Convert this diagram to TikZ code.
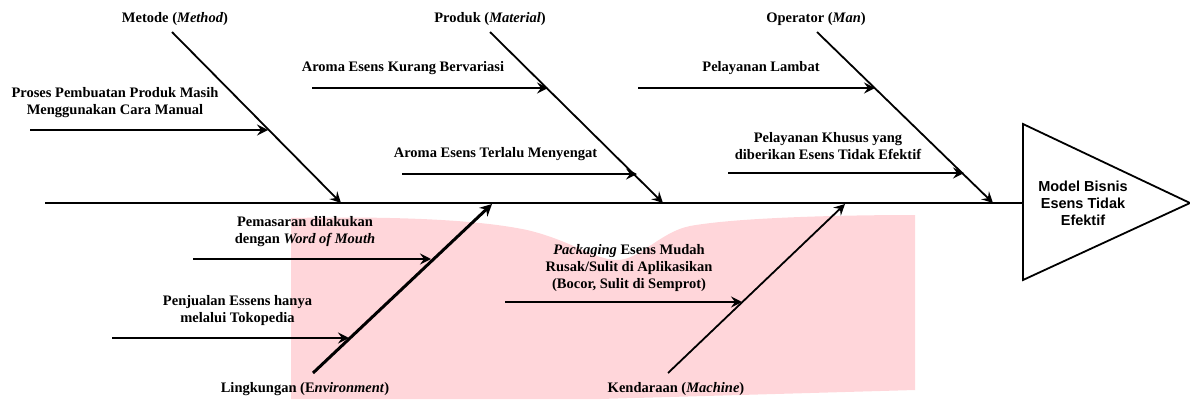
\documentclass[tikz,border=0pt]{standalone}
\usepackage{fontspec}
\setmainfont{Liberation Serif}
\newfontfamily\effectfont{Liberation Sans}
\usepackage{xcolor}
\usetikzlibrary{arrows.meta,positioning}
\definecolor{blush}{RGB}{255,214,218}

\begin{document}
\begin{tikzpicture}[x=1pt,y=-1pt,
        cause/.style={font=\bfseries\fontsize{14.5}{17}\selectfont, align=center, inner sep=0pt},
        effect/.style={font=\effectfont\bfseries\fontsize{14.5}{17}\selectfont, align=center, inner sep=0pt},
        bone/.style={line width=1.8pt, -{Stealth[length=11pt,width=11pt,inset=4pt]}},
        thickbone/.style={line width=3pt, -{Stealth[length=12pt,width=12pt,inset=4pt]}}]
        \useasboundingbox (0,0) rectangle (1190,399);

        % pink area behind the lower causes
        \fill[blush] (291,399) -- (291,218) .. controls (400,216) and (480,220) .. (527,230)
            .. controls (570,240) and (595,260) .. (617,260)
            .. controls (640,260) and (660,232) .. (690,226)
            .. controls (740,217) and (850,215) .. (915,215)
            -- (915,390) -- (600,399) -- cycle;

        % head of the fish
        \coordinate (spine) at (45,203);
        \coordinate (headA) at (1023,124);
        \coordinate (headB) at (1190,203);
        \coordinate (headC) at (1023,280);
        \coordinate (headL) at (1023,203);
        \draw[line width=1.8pt, line join=miter] (headA) -- (headB) -- (headC) -- cycle;
        \node[effect] (eff) at (1083,203) {Model Bisnis\\Esens Tidak\\Efektif};
        \draw[line width=1.8pt] (spine) -- (headL);

        % main categories
        \node[cause] (meth) at (175,19) {Metode (\textit{Method})};
        \node[cause] (mat) at (490,19) {Produk (\textit{Material})};
        \node[cause] (man) at (816,19) {Operator (\textit{Man})};
        \node[cause] (env) at (305,389) {Lingkungan (E\textit{nvironment})};
        \node[cause] (mach) at (676,389) {Kendaraan (\textit{Machine})};

        \coordinate (methT) at (172,32);  \coordinate (methH) at (341,203);
        \coordinate (matT) at (490,32);   \coordinate (matH) at (663,203);
        \coordinate (manT) at (817,32);   \coordinate (manH) at (993,203);
        \coordinate (envT) at (313,373);  \coordinate (envH) at (492,204);
        \coordinate (machT) at (668,373); \coordinate (machH) at (845,204);

        \draw[bone] (methT) -- (methH);
        \draw[bone] (matT) -- (matH);
        \draw[bone] (manT) -- (manH);
        \draw[thickbone] (envT) -- (envH);
        \draw[bone] (machT) -- (machH);

        % sub causes
        \node[cause] (manual) at (115,102.5) {Proses Pembuatan Produk Masih\\Menggunakan Cara Manual};
        \node[cause] (kurang) at (403,68) {Aroma Esens Kurang Bervariasi};
        \node[cause] (terlalu) at (495.5,154) {Aroma Esens Terlalu Menyengat};
        \node[cause] (lambat) at (761,68) {Pelayanan Lambat};
        \node[cause] (khusus) at (828,146.5) {Pelayanan Khusus yang\\diberikan Esens Tidak Efektif};
        \node[cause] (wom) at (305,232) {Pemasaran dilakukan\\dengan \textit{Word of Mouth}};
        \node[cause] (toko) at (237.5,310.5) {Penjualan Essens hanya\\melalui Tokopedia};
        \node[cause] (pack) at (629,268) {\textit{Packaging} Esens Mudah\\Rusak/Sulit di Aplikasikan\\(Bocor, Sulit di Semprot)};

        \coordinate (manualT) at (30,130);   \coordinate (manualH) at (268,130);
        \coordinate (kurangT) at (312,88);   \coordinate (kurangH) at (548,88);
        \coordinate (terlaluT) at (402,174); \coordinate (terlaluH) at (637,174);
        \coordinate (lambatT) at (638,88);   \coordinate (lambatH) at (875,88);
        \coordinate (khususT) at (728,173);  \coordinate (khususH) at (964,173);
        \coordinate (womT) at (193,259);     \coordinate (womH) at (431,259);
        \coordinate (tokoT) at (112,338);    \coordinate (tokoH) at (349,338);
        \coordinate (packT) at (505,302);    \coordinate (packH) at (742,302);

        \draw[bone] (manualT) -- (manualH);
        \draw[bone] (kurangT) -- (kurangH);
        \draw[bone] (terlaluT) -- (terlaluH);
        \draw[bone] (lambatT) -- (lambatH);
        \draw[bone] (khususT) -- (khususH);
        \draw[bone] (womT) -- (womH);
        \draw[bone] (tokoT) -- (tokoH);
        \draw[bone] (packT) -- (packH);
    \end{tikzpicture}
\end{document}
